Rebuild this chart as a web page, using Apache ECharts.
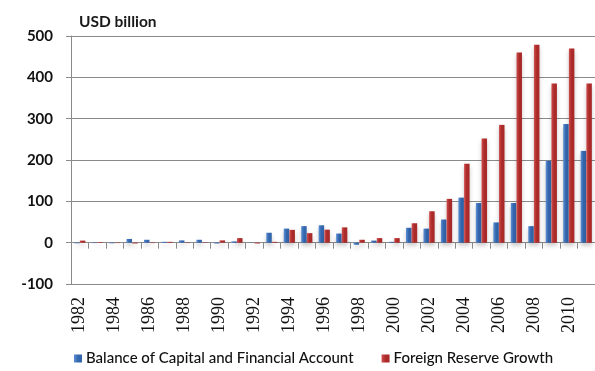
<!DOCTYPE html>
<html>
<head>
<meta charset="utf-8">
<script src="https://cdn.jsdelivr.net/npm/echarts@6/dist/echarts.min.js"></script>
<style>
  html, body { margin: 0; padding: 0; background: #fff; }
  #chart { width: 595px; height: 371px; }
</style>
</head>
<body>
<div id="chart"></div>
<script>
// Years on the category axis
const years = [];
for (let y = 1982; y <= 2011; y++) years.push(String(y));

// Balance of capital and financial account, USD billion
const capitalAccount = [-1.5, -1, -1.5, 9, 7, 2, 5.5, 7, -2, 3, -0.5, 24, 34, 40, 42, 22, -5, 5, 2, 36, 34, 56, 109, 96, 49, 96, 40, 198, 287, 222];

// Growth of foreign exchange reserves, USD billion
const reserveGrowth = [5, 1.5, -1, -2, -1, 2, -1, 1, 5.5, 11, -2, 2, 31, 23, 31.5, 37, 7, 11, 11, 47, 76, 106, 191, 252, 285, 460, 479, 385, 470, 385];

// Value axis ticks
const yMin = -100, yMax = 500, yStep = 100;

const seriesNames = ['Balance of Capital and Financial Account', 'Foreign Reserve Growth'];

function shade(dark, light) {
  return new echarts.graphic.LinearGradient(0, 0, 1, 0, [
    { offset: 0, color: light },
    { offset: 0.5, color: dark },
    { offset: 1, color: dark }
  ]);
}

const chart = echarts.init(document.getElementById('chart'), null, { renderer: 'canvas' });

const gridColor = '#8a8a8a';

chart.setOption({
  animation: false,
  backgroundColor: '#ffffff',
  title: {
    text: 'USD billion',
    left: 74,
    top: 9,
    textStyle: { fontFamily: 'Lato', fontSize: 15.5, fontWeight: 'bold', color: '#1a1a1a' }
  },
  legend: {
    left: 69,
    top: 346,
    itemWidth: 8,
    itemHeight: 8,
    itemGap: 28,
    icon: 'rect',
    textStyle: { fontFamily: 'Lato', fontSize: 15, fontWeight: 500, color: '#111', padding: [0, 0, 0, -1] },
    data: seriesNames
  },
  grid: { left: 71, right: -6, top: 36, bottom: 87, containLabel: false },
  xAxis: [
    {
      type: 'category',
      data: years,
      axisLine: { onZero: true, lineStyle: { color: gridColor, width: 1 } },
      axisTick: { show: true, interval: 0, length: 6, lineStyle: { color: gridColor } },
      axisLabel: { show: false },
      splitLine: { show: false }
    },
    {
      type: 'category',
      data: years,
      position: 'bottom',
      axisLine: { show: false, onZero: false },
      axisTick: { show: false },
      axisLabel: {
        show: true,
        interval: 1,
        rotate: 90,
        margin: 13,
        fontFamily: 'Liberation Serif',
        fontSize: 18,
        color: '#111'
      }
    }
  ],
  yAxis: {
    type: 'value',
    min: yMin,
    max: yMax,
    interval: yStep,
    axisLine: { show: true, lineStyle: { color: gridColor, width: 1 } },
    axisTick: { show: true, length: 5, lineStyle: { color: gridColor } },
    axisLabel: {
      margin: 18,
      fontFamily: 'Lato',
      fontSize: 15,
      fontWeight: 'bold',
      color: '#111'
    },
    splitLine: { show: true, lineStyle: { color: gridColor, width: 1 } }
  },
  series: [
    {
      name: seriesNames[0],
      type: 'bar',
      xAxisIndex: 0,
      data: capitalAccount,
      barGap: '4%',
      barCategoryGap: '36%',
      itemStyle: {
        color: shade('#3466ae', '#5b8fd4'),
        shadowColor: 'rgba(0,0,0,0.22)',
        shadowBlur: 4,
        shadowOffsetY: 3
      }
    },
    {
      name: seriesNames[1],
      type: 'bar',
      xAxisIndex: 0,
      data: reserveGrowth,
      barGap: '4%',
      barCategoryGap: '36%',
      itemStyle: {
        color: shade('#aa2a2a', '#cf4d4b'),
        shadowColor: 'rgba(0,0,0,0.22)',
        shadowBlur: 4,
        shadowOffsetY: 3
      }
    }
  ]
});
</script>
</body>
</html>
